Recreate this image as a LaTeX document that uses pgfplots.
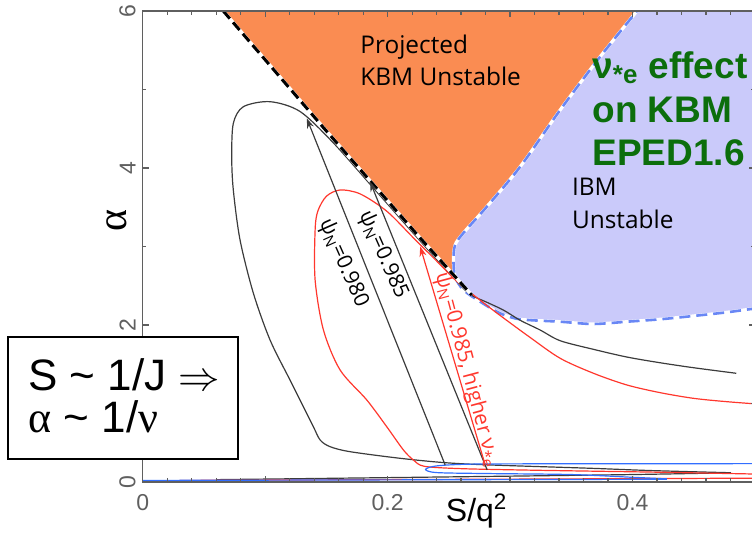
\documentclass[border=0pt]{standalone}
\usepackage{pgfplots}
\pgfplotsset{compat=1.18}
\usepackage{fontspec}
\setmainfont{Liberation Sans}
\newfontfamily\osans{Open Sans}
\newfontfamily\lserif{Liberation Serif}
\usetikzlibrary{arrows.meta}
\definecolor{korange}{RGB}{250,140,82}
\definecolor{ibmfill}{RGB}{202,202,250}
\definecolor{ibmline}{RGB}{105,135,245}
\definecolor{cblack}{RGB}{60,60,60}
\definecolor{cred}{RGB}{255,55,45}
\definecolor{cblue}{RGB}{50,110,255}
\definecolor{cgreen}{RGB}{12,110,12}
\definecolor{axgray}{RGB}{95,95,95}
\begin{document}
\begin{tikzpicture}
\begin{axis}[
  at={(0,0)}, anchor=south west,
  scale only axis, width=306.15pt, height=235.5pt,
  xmin=0, xmax=0.5, ymin=0, ymax=6,
  axis on top,
  axis line style={draw=axgray, line width=0.75pt},
  tick style={draw=axgray, line width=0.6pt},
  tick align=inside,
  major tick length=3pt, minor tick length=1.8pt,
  xtick={0,0.1,0.2,0.3,0.4,0.5}, xticklabels={0,,0.2,,0.4,},
  minor x tick num=4,
  ytick={0,2,4,6}, yticklabels={0,2,4,6}, minor y tick num=1,
  ticklabel style={font=\fontsize{11.5}{11.5}\selectfont, text=axgray},
  yticklabel style={rotate=90, anchor=south},
  xticklabel style={yshift=-2.5pt},
]
% KBM unstable region (orange)
\addplot[fill=korange, draw=none] coordinates {
 (0.0493,6.3) (0.0658,6.0) (0.1473,4.52) (0.2266,3.108) (0.2687,2.382)
 (0.30,2.5) (0.36,3.2) (0.46,6.3)} -- cycle;
% IBM unstable region (lavender)
\addplot[fill=ibmfill, draw=none, smooth] coordinates {
 (0.4345,6.6) (0.4036,6.0) (0.3736,5.418) (0.3409,4.739) (0.3083,4.017)
 (0.2810,3.507) (0.2619,3.172) (0.2551,3.019) (0.2538,2.828) (0.2551,2.615)
 (0.2619,2.446) (0.2756,2.297) (0.2919,2.149) (0.3083,2.073) (0.3409,2.042)
 (0.3679,2.013) (0.3954,2.042) (0.4226,2.073) (0.4496,2.115) (0.4771,2.162)
 (0.5002,2.21) (0.53,2.26) (0.56,2.30) (0.60,2.40) (0.60,6.6)} -- cycle;
\addplot[white, line width=1.6pt, smooth] coordinates {
 (0.4345,6.6) (0.4036,6.0) (0.3736,5.418) (0.3409,4.739) (0.3083,4.017)
 (0.2810,3.507) (0.2619,3.172) (0.2551,3.019) (0.2538,2.828) (0.2551,2.615)
 (0.2619,2.446) (0.2756,2.297) (0.2919,2.149) (0.3083,2.073) (0.3409,2.042)
 (0.3679,2.013) (0.3954,2.042) (0.4226,2.073) (0.4496,2.115) (0.4771,2.162)
 (0.5002,2.21) (0.53,2.26)};
\addplot[ibmline, line width=1.3pt, dash pattern=on 5.5pt off 3pt, smooth] coordinates {
 (0.4345,6.6) (0.4036,6.0) (0.3736,5.418) (0.3409,4.739) (0.3083,4.017)
 (0.2810,3.507) (0.2619,3.172) (0.2551,3.019) (0.2538,2.828) (0.2551,2.615)
 (0.2619,2.446) (0.2756,2.297) (0.2919,2.149) (0.3083,2.073) (0.3409,2.042)
 (0.3679,2.013) (0.3954,2.042) (0.4226,2.073) (0.4496,2.115) (0.4771,2.162)
 (0.5002,2.21) (0.53,2.26)};
% black contour (psi_N = 0.980)
\addplot[cblack, line width=0.6pt, smooth] coordinates {
 (0.4847,1.385) (0.4498,1.456) (0.4226,1.519) (0.3954,1.592) (0.3681,1.690)
 (0.3409,1.80) (0.3246,1.936) (0.3083,2.06) (0.2946,2.19) (0.2810,2.29)
 (0.2674,2.39) (0.2551,2.58) (0.2266,3.07) (0.1870,3.77) (0.1557,4.32)
 (0.1285,4.72) (0.1040,4.845) (0.0822,4.781) (0.0740,4.569) (0.0727,4.144)
 (0.0740,3.720) (0.0795,3.083) (0.0904,2.404) (0.1040,1.809) (0.1203,1.299)
 (0.1312,0.959) (0.1394,0.704) (0.1449,0.535) (0.1530,0.450) (0.1694,0.386)
 (0.2102,0.302) (0.2470,0.246) (0.2838,0.217) (0.3655,0.175) (0.4145,0.146)
 (0.4804,0.118)};
\addplot[cblack, line width=0.6pt, smooth] coordinates {
 (0.06,0.03) (0.25,0.065) (0.40,0.095) (0.4804,0.118)};
% red contour (higher collisionality)
\addplot[cred, line width=0.6pt, smooth] coordinates {
 (0.505,0.99) (0.4771,1.023) (0.4498,1.066) (0.4226,1.138) (0.3954,1.236)
 (0.3681,1.385) (0.3409,1.576) (0.3165,1.84) (0.2946,2.09) (0.2810,2.25)
 (0.2647,2.45) (0.2535,2.60) (0.2429,2.77) (0.2211,3.11) (0.1993,3.45) (0.1776,3.67)
 (0.1612,3.72) (0.1500,3.64) (0.1430,3.45) (0.1408,3.21) (0.1408,2.573)
 (0.1476,1.936) (0.1612,1.427) (0.1830,1.045) (0.1993,0.704) (0.2129,0.408)
 (0.2211,0.280) (0.2300,0.200) (0.2600,0.170) (0.3200,0.150) (0.4200,0.125)
 (0.5050,0.10)};
\addplot[cred, line width=0.6pt] coordinates {(0.03,0.02) (0.52,0.05)};
% blue low-alpha curves
\addplot[cblue, line width=0.6pt, smooth] coordinates {
 (0.52,0.235) (0.45,0.233) (0.35,0.232) (0.27,0.228) (0.24,0.205)
 (0.231,0.16) (0.24,0.12) (0.28,0.108) (0.35,0.095) (0.40,0.06) (0.428,0.04)};
\addplot[cblue, line width=0.6pt] coordinates {(0,0.02) (0.428,0.035)};
% projected KBM boundary (dashed)
\addplot[white, line width=1.7pt] coordinates {
 (0.0658,6.0) (0.1473,4.52) (0.2266,3.108) (0.2687,2.382)};
\addplot[black, line width=1.5pt, dash pattern=on 5pt off 2.5pt] coordinates {
 (0.0658,6.0) (0.1473,4.52) (0.2266,3.108) (0.2687,2.382)};
% arrows
\addplot[cblack, line width=0.6pt, -{Stealth[length=5pt,width=3.5pt]}] coordinates {
 (0.247,0.217) (0.134,4.633)};
\addplot[cblack, line width=0.6pt, -{Stealth[length=5pt,width=3.5pt]}] coordinates {
 (0.2813,0.153) (0.1857,3.825)};
\addplot[cred, line width=0.6pt, -{Stealth[length=5pt,width=3.5pt]}] coordinates {
 (0.2797,0.217) (0.2266,3.00)};
\end{axis}
% region labels
\node[anchor=base west, inner sep=0, font=\osans\fontsize{12.2}{14}\selectfont] at (108.65pt,214.5pt) {Projected};
\node[anchor=base west, inner sep=0, font=\osans\fontsize{12.2}{14}\selectfont] at (108.65pt,198.5pt) {KBM Unstable};
\node[anchor=base west, inner sep=0, font=\osans\fontsize{12.2}{14}\selectfont] at (214.5pt,143.5pt) {IBM};
\node[anchor=base west, inner sep=0, font=\osans\fontsize{12.2}{14}\selectfont] at (214.5pt,127pt) {Unstable};
% green annotation
\node[anchor=base west, inner sep=0, text=cgreen, font=\bfseries\fontsize{18.5}{20}\selectfont] at (224.65pt,202pt) {ν\textsubscript{*e} effect};
\node[anchor=base west, inner sep=0, text=cgreen, font=\bfseries\fontsize{18.5}{20}\selectfont] at (224.65pt,180pt) {on KBM};
\node[anchor=base west, inner sep=0, text=cgreen, font=\bfseries\fontsize{18.5}{20}\selectfont] at (224.65pt,158.5pt) {EPED1.6};
% contour labels
\node[rotate=-66, inner sep=0, font=\osans\fontsize{10.5}{12}\selectfont] at (100.3pt,109.35pt) {ψ\textsubscript{N}=0.980};
\node[rotate=-66, inner sep=0, font=\osans\fontsize{10.5}{12}\selectfont] at (120.15pt,113.5pt) {ψ\textsubscript{N}=0.985};
\node[rotate=-75, inner sep=0, text=cred, font=\osans\fontsize{10.5}{12}\selectfont] at (162.15pt,56pt) {ψ\textsubscript{N}=0.985, higher ν\textsubscript{*e}};
% axis labels
\node[anchor=base, inner sep=0, font=\fontsize{16}{16}\selectfont] at (167pt,-19.85pt) {S/q\textsuperscript{2}};
\node[rotate=90, inner sep=0, font=\lserif\fontsize{21}{21}\selectfont] at (-12.85pt,131pt) {α};
% scaling box
\draw[line width=1pt, fill=white] (-67.35pt,11.5pt) rectangle (47.65pt,72.5pt);
\node[anchor=base west, inner sep=0, font=\fontsize{22}{22}\selectfont] at (-57.35pt,46pt) {S \textasciitilde{} 1/J $\Rightarrow$};
\node[anchor=base west, inner sep=0, font=\fontsize{22}{22}\selectfont] at (-57.35pt,25pt) {{\lserif α} \textasciitilde{} 1/{\lserif ν}};
\pgfresetboundingbox
\path[use as bounding box] (-71.35pt,-25pt) rectangle (304.65pt,241pt);
\end{tikzpicture}
\end{document}
